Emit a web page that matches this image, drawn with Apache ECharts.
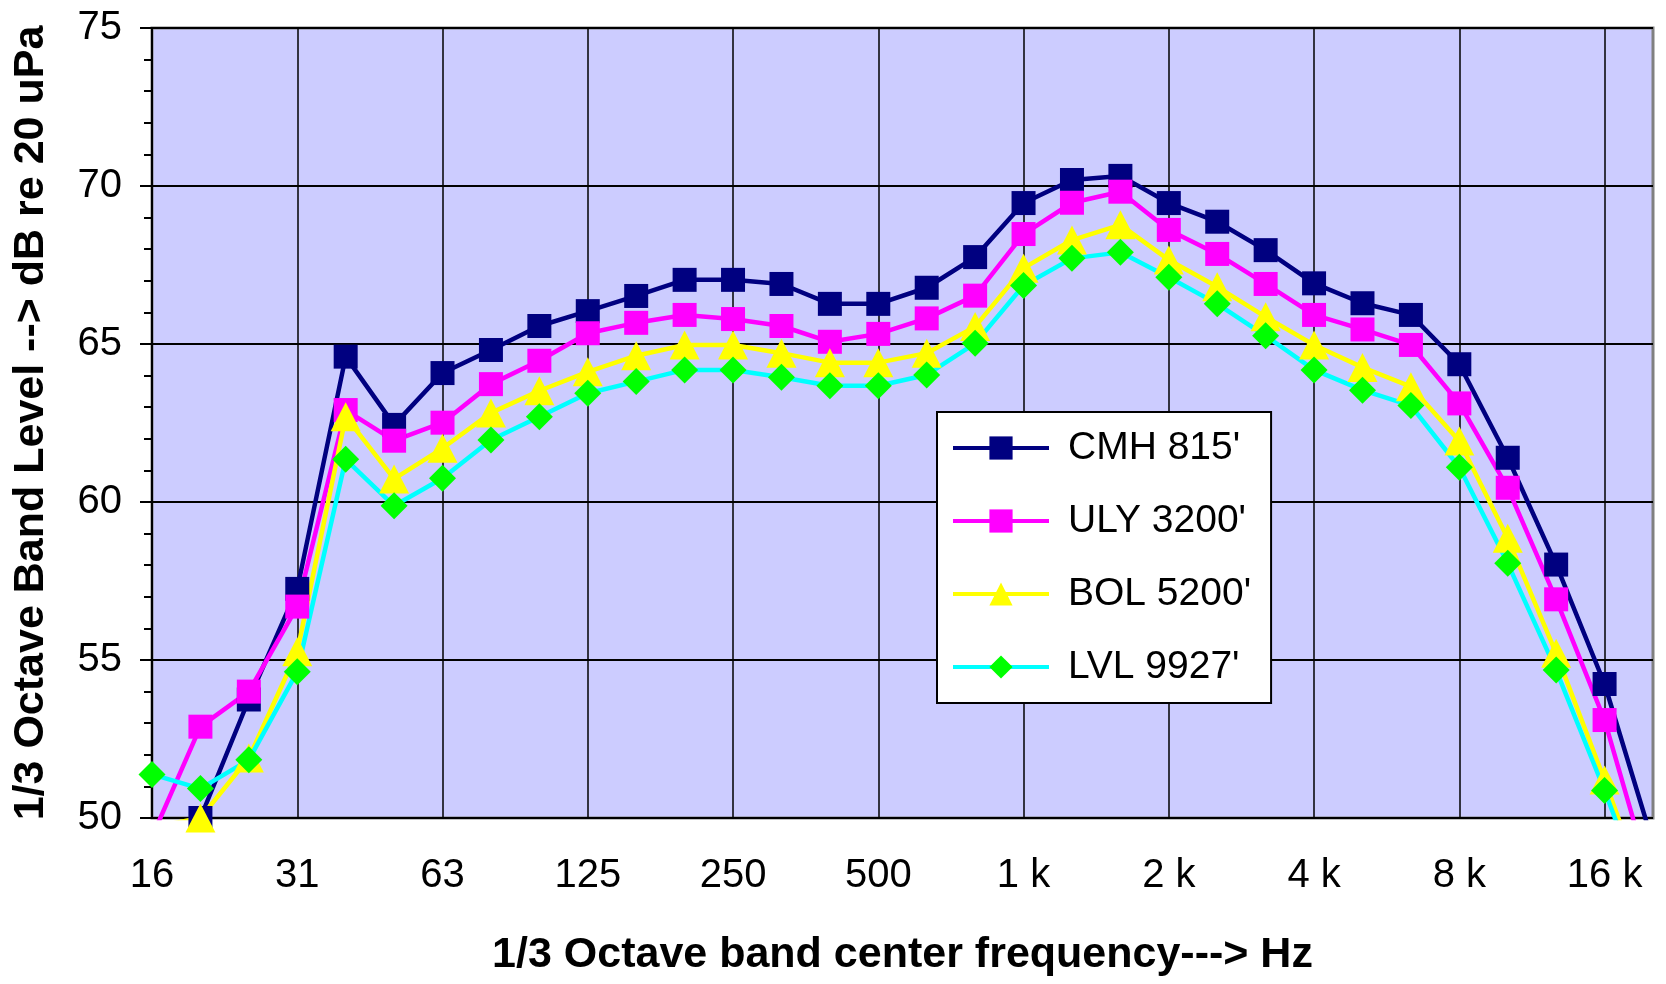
<!DOCTYPE html>
<html>
<head>
<meta charset="utf-8">
<script src="https://cdn.jsdelivr.net/npm/echarts@6/dist/echarts.min.js"></script>
<style>
html,body{margin:0;padding:0;background:#fff;}
#c{width:1666px;height:984px;}
</style>
</head>
<body>
<div id="c"></div>
<script>
const categories = ['16','20','25','31','40','50','63','80','100','125','160','200','250','315','400','500','630','800','1 k','1.25 k','1.6 k','2 k','2.5 k','3.15 k','4 k','5 k','6.3 k','8 k','10 k','12.5 k','16 k','20 k'];
const seriesNames = ["CMH 815'", "ULY 3200'", "BOL 5200'", "LVL 9927'"];
const cmh = [48.5, 50.0, 53.75, 57.25, 64.6, 62.44, 64.08, 64.81, 65.57, 66.04, 66.52, 67.03, 67.03, 66.9, 66.27, 66.27, 66.78, 67.75, 69.46, 70.19, 70.32, 69.46, 68.87, 67.97, 66.92, 66.29, 65.92, 64.36, 61.4, 58.02, 54.24, 49.2];
const uly = [49.4, 52.89, 54.0, 56.69, 62.91, 61.94, 62.51, 63.73, 64.47, 65.34, 65.67, 65.92, 65.79, 65.57, 65.07, 65.32, 65.81, 66.53, 68.48, 69.47, 69.82, 68.61, 67.85, 66.9, 65.92, 65.46, 64.97, 63.12, 60.45, 56.92, 53.1, 47.8];
const bol = [49.7, 50.0, 51.9, 55.26, 62.7, 60.73, 61.7, 62.82, 63.52, 64.12, 64.63, 64.97, 64.97, 64.71, 64.41, 64.41, 64.71, 65.55, 67.4, 68.29, 68.77, 67.66, 66.81, 65.86, 64.97, 64.26, 63.65, 61.93, 58.85, 55.21, 51.2, 47.0];
const lvl = [51.38, 50.93, 51.84, 54.63, 61.35, 59.88, 60.75, 61.96, 62.7, 63.44, 63.81, 64.18, 64.18, 63.95, 63.68, 63.68, 64.02, 65.02, 66.85, 67.71, 67.9, 67.11, 66.27, 65.26, 64.18, 63.54, 63.05, 61.1, 58.06, 54.68, 50.87, 46.8];
const xTitle = '1/3 Octave band center frequency---> Hz';
const yTitle = '1/3 Octave Band Level --> dB re 20 uPa';

const FONT = '"Liberation Sans", Arial, sans-serif';
const chart = echarts.init(document.getElementById('c'), null, {renderer: 'canvas'});

function mk(name, data, symbol, size, lineColor, fillColor) {
  return {
    name: name, type: 'line', data: data,
    symbol: symbol, symbolSize: size, showAllSymbol: true,
    lineStyle: {color: lineColor, width: 4.5},
    itemStyle: {color: fillColor, borderWidth: 0},
    emphasis: {disabled: true},
    animation: false,
    clip: true
  };
}

chart.setOption({
  animation: false,
  grid: {
    left: 152, right: 13, top: 28, bottom: 166,
    show: true, backgroundColor: '#CCCCFF', borderColor: '#808080', borderWidth: 3
  },
  legend: {
    orient: 'vertical',
    left: 937, top: 412,
    backgroundColor: '#ffffff',
    borderColor: '#000000', borderWidth: 2,
    padding: [16, 20, 16, 14],
    itemWidth: 96, itemHeight: 29, itemGap: 33,
    lineStyle: {width: 4},
    textStyle: {fontFamily: FONT, fontSize: 39, color: '#000', lineHeight: 40, padding: [0, 0, 0, 14]},
    data: seriesNames
  },
  xAxis: {
    type: 'category',
    data: categories,
    boundaryGap: false,
    name: xTitle,
    nameLocation: 'middle',
    nameGap: 116,
    nameTextStyle: {fontFamily: FONT, fontSize: 43, fontWeight: 'bold', color: '#000'},
    axisLine: {show: false},
    axisTick: {show: false},
    axisLabel: {interval: 2, margin: 38, fontFamily: FONT, fontSize: 40, color: '#000'},
    splitLine: {show: true, interval: 2, lineStyle: {color: '#000', width: 1.5}}
  },
  yAxis: {
    type: 'value',
    min: 50, max: 75, interval: 5,
    name: yTitle,
    nameLocation: 'middle',
    nameRotate: 90,
    nameGap: 99,
    nameTextStyle: {fontFamily: FONT, fontSize: 43, fontWeight: 'bold', color: '#000'},
    axisLine: {show: true, lineStyle: {color: '#000', width: 2}},
    axisTick: {show: true, inside: false, length: 12, lineStyle: {color: '#000', width: 2}},
    minorTick: {show: true, splitNumber: 5, length: 8, lineStyle: {color: '#000', width: 2}},
    axisLabel: {margin: 30, fontFamily: FONT, fontSize: 40, color: '#000'},
    splitLine: {show: true, lineStyle: {color: '#000', width: 2}}
  },
  series: [
    mk(seriesNames[0], cmh, 'rect', 24, '#000080', '#000080'),
    mk(seriesNames[1], uly, 'rect', 24, '#FF00FF', '#FF00FF'),
    mk(seriesNames[2], bol, 'triangle', [30, 29], '#FFFF00', '#FFFF00'),
    mk(seriesNames[3], lvl, 'diamond', [27, 27], '#00FFFF', '#00FF00')
  ]
});
</script>
</body>
</html>
